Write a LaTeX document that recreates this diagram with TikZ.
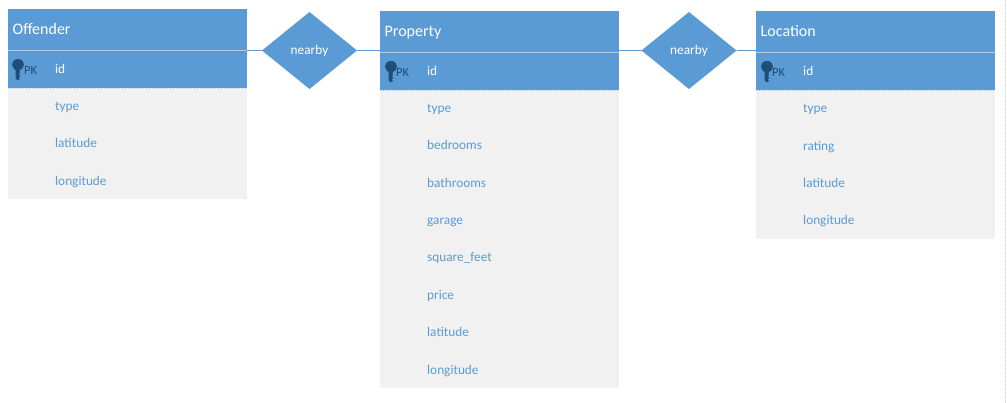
\documentclass[tikz,border=0pt]{standalone}
\usepackage{fontspec}
\setmainfont{Carlito}
\usetikzlibrary{shapes.geometric}
\definecolor{erblue}{HTML}{5B9BD5}
\definecolor{ergray}{HTML}{F1F1F1}
\definecolor{erkey}{HTML}{1F4E79}
\tikzset{
  x=1pt,y=-1pt,
  bodybox/.style={fill=ergray,draw=none,inner sep=0,outer sep=0,anchor=north west,minimum width=239pt},
  headbox/.style={fill=erblue,draw=none,inner sep=0,outer sep=0,anchor=north west,minimum width=239pt,minimum height=42pt},
  bandbox/.style={fill=erblue,draw=none,inner sep=0,outer sep=0,anchor=north west,minimum width=239.5pt,minimum height=37.5pt},
  title/.style={text=white,font=\fontsize{16}{18}\selectfont,anchor=base west,inner sep=0},
  field/.style={text=erblue,font=\fontsize{13.3}{15}\selectfont,anchor=base west,inner sep=0},
  idfield/.style={text=white,font=\fontsize{13.3}{15}\selectfont,anchor=base west,inner sep=0},
  pk/.style={text=erkey,font=\fontsize{12.5}{15}\selectfont,anchor=base west,inner sep=0},
  rel/.style={shape=diamond,fill=erblue,draw=none,inner sep=0,outer sep=0,aspect=1.23,minimum width=95pt,minimum height=77pt},
  rellabel/.style={text=white,font=\fontsize{13.3}{15}\selectfont,anchor=base,inner sep=0},
  link/.style={draw=erblue,line width=1.2pt},
  sep/.style={draw=white!50!erblue,line width=1pt},
  bandedge/.style={draw=white!45!erblue,line width=0.8pt,dash pattern=on 1.5pt off 1.5pt},
  key/.pic={
    \fill[erkey] (0,-7) .. controls (-4,-7) and (-6,-4) .. (-6,-1.5)
      .. controls (-6,1.5) and (-3.5,3) .. (-2.5,4) -- (-2.5,12) -- (-0.5,14.5) -- (2,13)
      -- (0.5,11.5) -- (2.5,10) -- (0.8,8.5) -- (2,7) -- (1.5,4.5)
      .. controls (3.5,3) and (6,1.5) .. (6,-1.5)
      .. controls (6,-4) and (4,-7) .. (0,-7) -- cycle;
  }
}
\newcommand{\keyicon}[2]{\path (#1,#2) pic {key};}
\begin{document}
\begin{tikzpicture}
\useasboundingbox (0,0) rectangle (1007,403);
\draw[black!14,line width=1pt,dash pattern=on 3pt off 1pt] (1005.5,0) -- (1005.5,403);

% Offender
\node[bodybox,minimum height=190pt] (offbody) at (8,9) {};
\node[headbox] (offhead) at (8,9) {};
\node[bandbox] (offband) at (7.5,50.6) {};
\draw[sep] (offband.north west) -- (offband.north east);
\draw[bandedge] (offband.south west) -- (offband.south east);
\node[title] (offtitle) at (12.5,34.5) {Offender};
\keyicon{18}{66}
\node[pk] (offpk) at (24,74.3) {PK};
\node[idfield] (offid) at (55,74) {id};
\node[field] (offa) at (55,111) {type};
\node[field] (offb) at (55,148) {latitude};
\node[field] (offc) at (55,186) {longitude};

% Property
\node[bodybox,minimum height=377pt] (probody) at (380,11) {};
\node[headbox] (prohead) at (380,11) {};
\node[bandbox] (proband) at (379.5,52.6) {};
\draw[sep] (proband.north west) -- (proband.north east);
\draw[bandedge] (proband.south west) -- (proband.south east);
\node[title] (protitle) at (384.5,36.5) {Property};
\keyicon{391}{68}
\node[pk] (propk) at (396,76.3) {PK};
\node[idfield] (proid) at (427,76) {id};
\node[field] (proa) at (427,113) {type};
\node[field] (prob) at (427,150) {bedrooms};
\node[field] (proc) at (427,188) {bathrooms};
\node[field] (prod) at (427,225) {garage};
\node[field] (proe) at (427,262) {square\_feet};
\node[field] (prof) at (427,300) {price};
\node[field] (prog) at (427,337) {latitude};
\node[field] (proh) at (427,374) {longitude};

% Location
\node[bodybox,minimum height=228pt] (locbody) at (756,11) {};
\node[headbox] (lochead) at (756,11) {};
\node[bandbox] (locband) at (755.5,52.6) {};
\draw[sep] (locband.north west) -- (locband.north east);
\draw[bandedge] (locband.south west) -- (locband.south east);
\node[title] (loctitle) at (760.5,36.5) {Location};
\keyicon{767}{68}
\node[pk] (locpk) at (772,76.3) {PK};
\node[idfield] (locid) at (803,76) {id};
\node[field] (loca) at (803,113) {type};
\node[field] (locb) at (803,151) {rating};
\node[field] (locc) at (803,188) {latitude};
\node[field] (locd) at (803,225) {longitude};

% Relationships
\node[rel] (relone) at (309.5,50.5) {};
\node[rel] (reltwo) at (689,50.5) {};
\node[rellabel] (relonetext) at (309.5,54.5) {nearby};
\node[rellabel] (reltwotext) at (689,54.5) {nearby};

\draw[link] (relone.west) -- (relone.west -| offhead.east);
\draw[link] (relone.east) -- (relone.east -| prohead.west);
\draw[link] (reltwo.west) -- (reltwo.west -| prohead.east);
\draw[link] (reltwo.east) -- (reltwo.east -| lochead.west);
\end{tikzpicture}
\end{document}
